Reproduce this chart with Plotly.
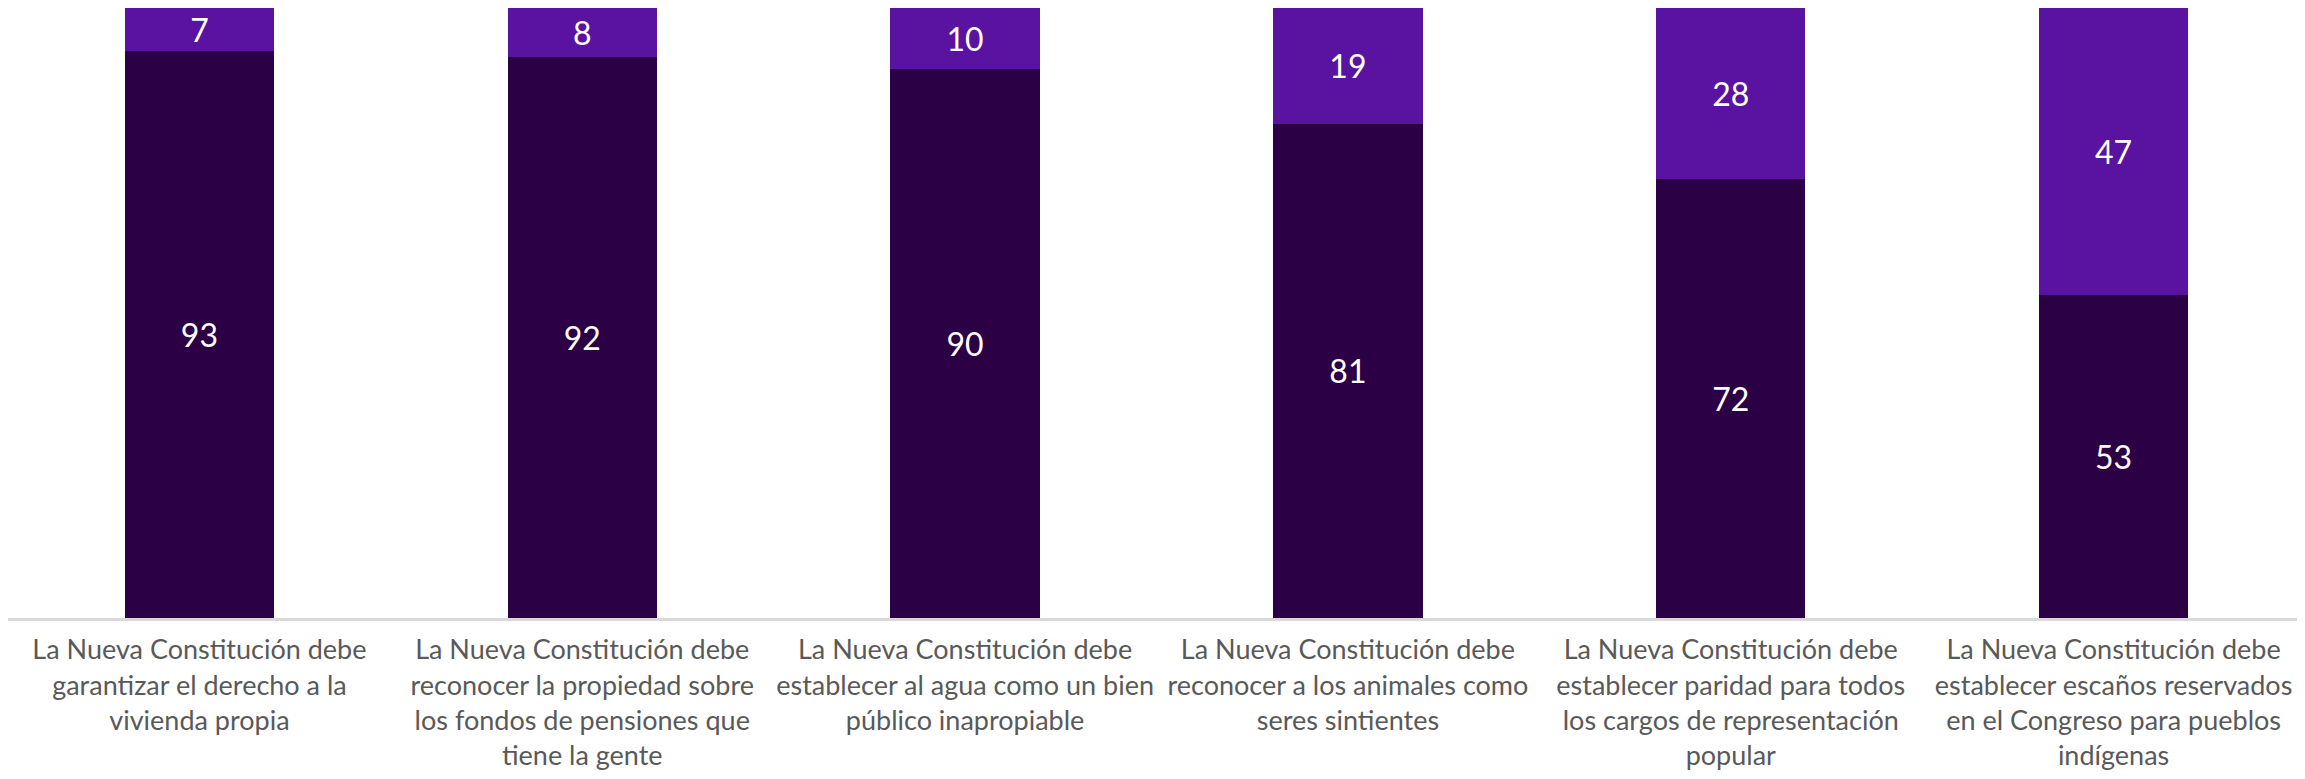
import plotly.graph_objects as go

categories = [
    "La Nueva Constitución debe<br>garantizar el derecho a la<br>vivienda propia",
    "La Nueva Constitución debe<br>reconocer la propiedad sobre<br>los fondos de pensiones que<br>tiene la gente",
    "La Nueva Constitución debe<br>establecer al agua como un bien<br>público inapropiable",
    "La Nueva Constitución debe<br>reconocer a los animales como<br>seres sintientes",
    "La Nueva Constitución debe<br>establecer paridad para todos<br>los cargos de representación<br>popular",
    "La Nueva Constitución debe<br>establecer escaños reservados<br>en el Congreso para pueblos<br>indígenas",
]
acuerdo = [93, 92, 90, 81, 72, 53]
desacuerdo = [7, 8, 10, 19, 28, 47]

dark = "#2C0045"
light = "#5A12A0"

fig = go.Figure()
fig.add_trace(go.Bar(
    x=categories, y=acuerdo, name="De acuerdo",
    marker=dict(color=dark, line=dict(width=0)),
    text=[str(v) for v in acuerdo], textposition="inside",
    insidetextanchor="middle", textangle=0, constraintext="none",
    textfont=dict(color="white", size=32, family="Lato"),
))
fig.add_trace(go.Bar(
    x=categories, y=desacuerdo, name="En desacuerdo",
    marker=dict(color=light, line=dict(width=0)),
    text=[str(v) for v in desacuerdo], textposition="inside",
    insidetextanchor="middle", textangle=0, constraintext="none",
    textfont=dict(color="white", size=32, family="Lato"),
))

fig.update_layout(
    barmode="stack",
    bargap=0.61,
    width=2297, height=771,
    margin=dict(l=0, r=0, t=0, b=161),
    paper_bgcolor="white", plot_bgcolor="white",
    showlegend=False,
    font=dict(family="Lato", color="#595959"),
)
fig.update_xaxes(
    showline=True, linecolor="#D9D9D9", linewidth=3,
    ticks="", tickfont=dict(size=27, color="#595959", family="Lato"),
    tickangle=0, showgrid=False, ticklabelstandoff=6,
)
fig.update_yaxes(range=[0, 100], visible=False, showgrid=False, zeroline=False)

fig.write_html("out.html")
